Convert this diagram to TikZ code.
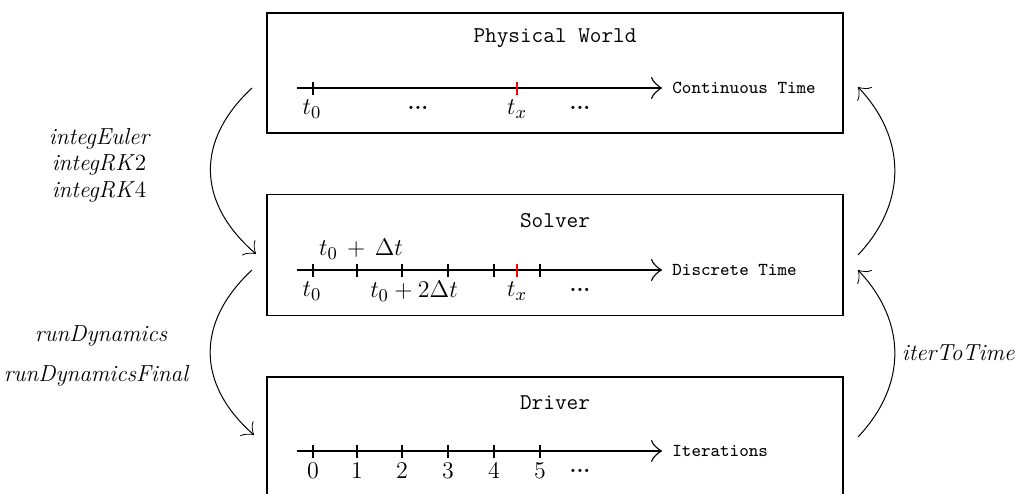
\documentclass[tikz,border=0pt]{standalone}
\usetikzlibrary{arrows.meta}
\begin{document}
\begin{tikzpicture}[x=0.5pt,y=-0.5pt,
  box/.style={draw,line width=0.7pt,minimum width=288pt,inner sep=0pt},
  axis/.style={line width=0.7pt,-{Classical TikZ Rightarrow[length=5.5pt,width=11pt]}},
  tick/.style={line width=0.6pt},
  redtick/.style={line width=0.6pt,red},
  flow/.style={line width=0.5pt,-{Classical TikZ Rightarrow[length=5pt,width=10pt]}},
  title/.style={font=\fontsize{11.3}{13}\selectfont\ttfamily},
  axlabel/.style={font=\fontsize{9.1}{11}\selectfont\ttfamily,anchor=west,inner sep=0pt},
  mlabel/.style={font=\fontsize{12.2}{14}\selectfont,inner sep=0pt},
  dots/.style={font=\fontsize{11}{13}\selectfont\bfseries,inner sep=0pt},
  oplabel/.style={font=\fontsize{11.6}{13.25}\selectfont\itshape,align=center,inner sep=0pt}]
\useasboundingbox (0,0) rectangle (1016,493);
\clip (0,0) rectangle (1016,493);
% boxes
\node[box,minimum height=60pt] (world) at (555,73) {};
\node[box,minimum height=60.5pt] (solver) at (555,255) {};
\node[box,minimum height=75pt] (driver) at (555,452) {};
% titles
\node[title] (tw) at (555,38) {Physical World};
\node[title] (ts) at (555,221) {Solver};
\node[title] (td) at (555,403) {Driver};
% top axis
\coordinate (a1s) at (297,88);
\coordinate (a1e) at (662,88);
\draw[axis] (a1s) -- (a1e);
\node[axlabel] (l1) at (672,88) {Continuous Time};
\coordinate (w0) at (313,88);
\coordinate (wx) at (517,88);
\draw[tick] ([yshift=3pt]w0) -- ([yshift=-3.3pt]w0);
\draw[redtick] ([yshift=3pt]wx) -- ([yshift=-3.3pt]wx);
\node[mlabel] (wt0) at (312,109) {$t_0$};
\node[dots] (wd1) at (418,108) {...};
\node[mlabel] (wtx) at (517,109) {$t_x$};
\node[dots] (wd2) at (580,108) {...};
% middle axis
\coordinate (a2s) at (297,270);
\coordinate (a2e) at (662,270);
\draw[axis] (a2s) -- (a2e);
\node[axlabel] (l2) at (672,270) {Discrete Time};
\foreach \x [count=\i] in {313,357,402,448,494,540}
  \draw[tick] ([yshift=3pt]\x,270) coordinate (s\i) -- ([yshift=-3.3pt]\x,270);
\coordinate (sx) at (517,270);
\draw[redtick] ([yshift=3pt]sx) -- ([yshift=-3.3pt]sx);
\node[mlabel] (st1) at (361,249) {$t_0\,+\,\Delta t$};
\node[mlabel] (st0) at (312,291) {$t_0$};
\node[mlabel] (st2) at (414,291) {$t_0+2\Delta t$};
\node[mlabel] (stx) at (517,291) {$t_x$};
\node[dots] (sd) at (580,290) {...};
% bottom axis
\coordinate (a3s) at (297,451);
\coordinate (a3e) at (662,451);
\draw[axis] (a3s) -- (a3e);
\node[axlabel] (l3) at (672,451) {Iterations};
\foreach \x [count=\i from 0] in {313,357,402,448,494,540}{
  \draw[tick] ([yshift=3pt]\x,451) -- ([yshift=-3.3pt]\x,451);
  \node[mlabel] (d\i) at (\x,471) {$\i$};
}
\node[dots] (dd) at (580,471) {...};
% flow arrows
\coordinate (p1) at (252,88);
\coordinate (p2) at (256,254);
\coordinate (p3) at (252,270);
\coordinate (p4) at (254,435);
\coordinate (q1) at (858,255);
\coordinate (q2) at (858,87);
\coordinate (q3) at (858,437);
\coordinate (q4) at (858,270);
\draw[flow] (p1) .. controls (196,140) and (196,202) .. (p2);
\draw[flow] (p3) .. controls (196,322) and (196,384) .. (p4);
\draw[flow] (q1) .. controls (907,203) and (907,139) .. (q2);
\draw[flow] (q3) .. controls (907,385) and (907,322) .. (q4);
\node[oplabel] (integ) at (99,165) {integEuler\\integRK\textup{2}\\integRK\textup{4}};
\node[oplabel] (rd) at (101,336) {runDynamics};
\node[oplabel] (rdf) at (96,376) {runDynamicsFinal};
\node[oplabel,anchor=east] (itt) at (1015,353) {iterToTime};
\end{tikzpicture}
\end{document}
